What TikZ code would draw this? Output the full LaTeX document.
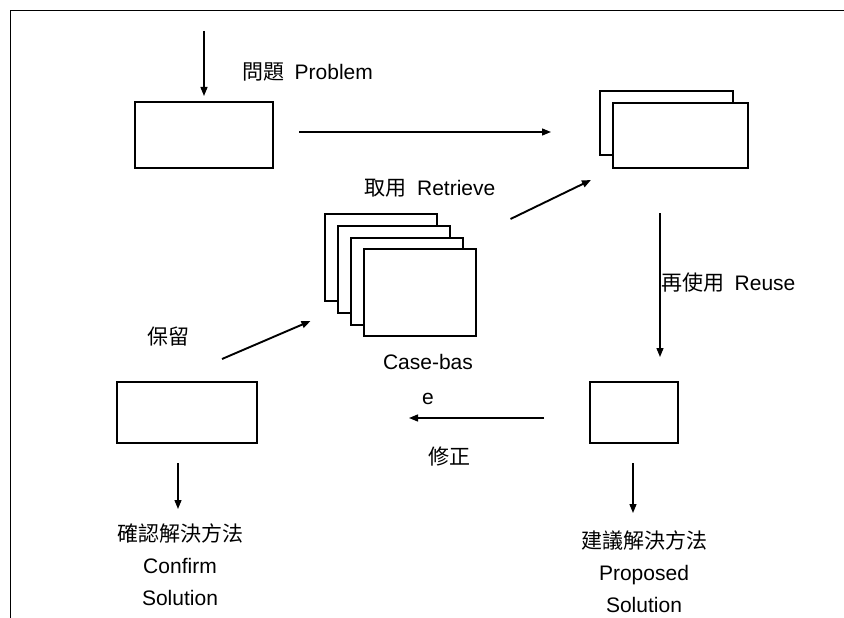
\documentclass[tikz,border=0pt]{standalone}
\usepackage{fontspec}
\setmainfont{Liberation Sans}
\newfontfamily\cjk{Noto Sans CJK TC}
\usetikzlibrary{arrows.meta,calc}
\tikzset{
  flow box/.style={draw,line width=2pt,fill=white,minimum width=138pt,minimum height=66pt,inner sep=0pt},
  case card/.style={flow box,minimum width=112pt,minimum height=87pt},
  flow arrow/.style={-{Triangle[length=9pt,width=7pt]},line width=1.3pt},
  bold arrow/.style={flow arrow,line width=1.9pt},
  flow label/.style={font=\fontsize{21}{32}\selectfont,inner sep=0pt,align=center}
}

\begin{document}
\begin{tikzpicture}[x=1pt,y=-1pt]
\useasboundingbox (0,0) rectangle (844,618);
% page frame
\draw[line width=0.8pt] (10,618) -- (10,10) -- (844,10);
% boxes
\node[flow box] (prob) at (204,135) {};
\node[flow box,minimum width=133pt,minimum height=64pt] (reuseback) at (666.5,123) {};
\node[flow box,minimum width=135pt,minimum height=65pt] (reuse) at (680.5,135.5) {};
\foreach \i in {1,...,4}
  \node[case card] (cb\i) at ({380.5+13.3*(\i-1)},{257.5+11.8*(\i-1)}) {};
\node[flow box,minimum width=140pt,minimum height=61pt] (conf) at (187,412.5) {};
\node[flow box,minimum width=88pt,minimum height=61pt] (prop) at (634,412.5) {};
% labels
\node[flow label,anchor=west] (problab) at (242,72) {{\cjk 問題}\hspace{0.5em}Problem};
\node[flow label] (retrlab) at (430,188) {{\cjk 取用}\hspace{0.5em}Retrieve};
\node[flow label,anchor=west] (reuselab) at (661,283) {{\cjk 再使用}\hspace{0.5em}Reuse};
\node[flow label] (retainlab) at (168,337) {\cjk 保留};
\node[flow label,font=\fontsize{21}{35}\selectfont] (cblab) at (428,379.5) {Case-bas\\e};
\node[flow label] (revlab) at (449,457) {\cjk 修正};
\node[flow label] (conflab) at (180,565) {{\cjk 確認解決方法}\\Confirm\\Solution};
\node[flow label] (proplab) at (644,572) {{\cjk 建議解決方法}\\Proposed\\Solution};
% arrows
\draw[flow arrow] ([yshift=70pt]prob.north) -- ([yshift=5pt]prob.north);
\draw[flow arrow] ($(prob.east)+(25,-3)$) -- ($(reuseback.west)+(-48,9)$);
\draw[bold arrow] ($(cb1.north east)+(73,6)$) -- ($(reuseback.south west)+(-8,24)$);
\draw[flow arrow] ($(reuse.south)+(-20.5,44)$) -- ($(prop.north)+(26,-24)$);
\draw[flow arrow] ($(prop.west)+(-45,5.5)$) -- ($(conf.east)+(151,5.5)$);
\draw[bold arrow] ($(conf.north)+(35,-22)$) -- ($(cb1.south west)+(-13,19)$);
\draw[flow arrow] ($(conf.south)+(-9,19)$) -- ($(conf.south)+(-9,65)$);
\draw[flow arrow] ($(prop.south)+(-1,19)$) -- ($(prop.south)+(-1,69)$);
\end{tikzpicture}
\end{document}
